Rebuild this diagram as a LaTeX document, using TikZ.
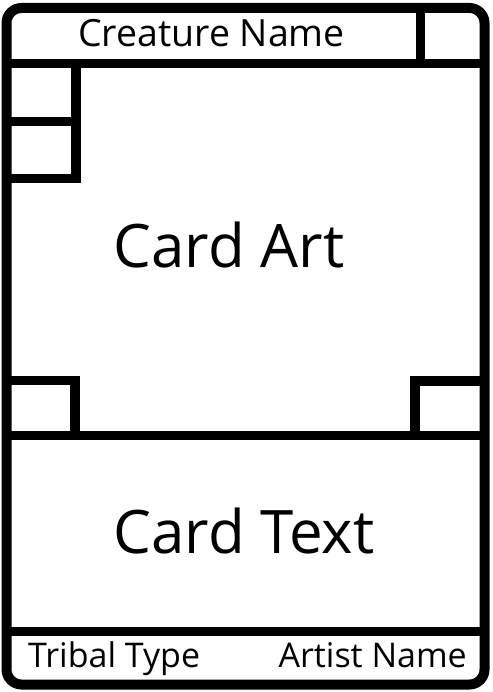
\documentclass[tikz,border=0pt]{standalone}
\usepackage{fontspec}
\setmainfont{Open Sans}
\usetikzlibrary{positioning}

\begin{document}
\begin{tikzpicture}[
  x=1pt, y=-1pt,
  frame/.style={draw=black, line width=10pt},
  rule/.style={draw=black, line width=9.5pt},
  title/.style={anchor=base, inner sep=0pt, font=\fontsize{37.5}{40}\selectfont},
  big/.style={anchor=base, inner sep=0pt, font=\fontsize{60}{64}\selectfont},
  foot/.style={inner sep=0pt, font=\fontsize{34}{36}\selectfont},
]
\useasboundingbox (0,0) rectangle (492,692);

% card outline
\draw[frame, rounded corners=15pt] (6.5,8) rectangle (484.5,684.5);

% header and separators
\draw[rule] (6.5,63.5) -- (484.5,63.5);
\draw[rule] (420.5,8) -- (420.5,63.5);
\draw[rule] (6.5,435.5) -- (484.5,435.5);
\draw[rule] (6.5,631.5) -- (484.5,631.5);

% small boxes
\draw[rule] (6.5,178.5) -| (76,63.5);
\draw[rule] (6.5,121.5) -- (76,121.5);
\draw[rule] (6.5,380.5) -| (75,435.5);
\draw[rule] (484.5,381) -| (415,435.5);

% labels
\node[title] (name) at (211.5,47) {Creature Name};
\node[big] (art) at (229,267) {Card Art};
\node[big] (text) at (244,553) {Card Text};
\node[foot, anchor=base west] (tribe) at (28,667) {Tribal Type};
\node[foot, anchor=base east] (artist) at (467,667) {Artist Name};

\end{tikzpicture}
\end{document}
